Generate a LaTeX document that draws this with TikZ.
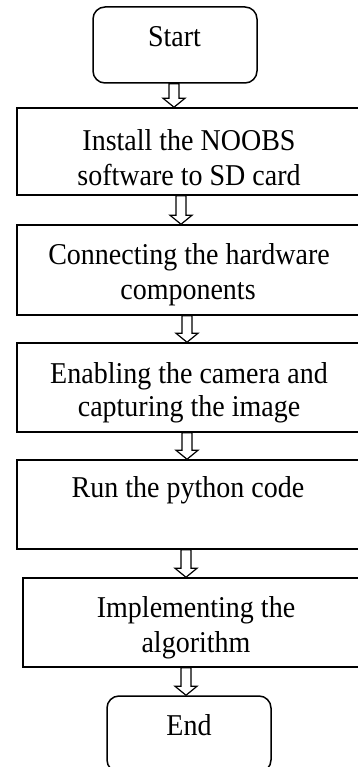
\documentclass[tikz,border=0pt]{standalone}
\usepackage{fontspec}
\setmainfont{Liberation Serif}
\usetikzlibrary{calc}

\tikzset{
  stepbox/.style={draw, line width=1.5pt, rectangle, inner sep=0pt},
  termbox/.style={stepbox, rounded corners=12pt},
  lbl/.style={anchor=base, inner sep=0pt, font=\fontsize{28}{34}\selectfont},
  flowarrow/.style={draw, line width=1.2pt, fill=white, line join=miter},
}

% slightly taller lettering
\newcommand\tall[1]{\scalebox{1}[1.08]{#1}}

% hollow block arrow pointing down from #1 to #2 (x taken from #1)
\newcommand\hollowdown[2]{%
  \draw[flowarrow] let \p1=(#1), \p2=(#2) in
    (\x1-5pt,\y1) -- (\x1+5pt,\y1) -- (\x1+5pt,\y2+9pt)
    -- (\x1+11pt,\y2+9pt) -- (\x1,\y2) -- (\x1-11pt,\y2+9pt)
    -- (\x1-5pt,\y2+9pt) -- cycle;}

\begin{document}
\begin{tikzpicture}[x=1pt,y=-1pt]
  \useasboundingbox (0,0) rectangle (358,767);
  \clip (0,0) rectangle (358,767);

  % boxes
  \node[termbox, minimum width=164pt, minimum height=76pt] (start) at (175,45) {};
  \node[stepbox, minimum width=344pt, minimum height=87pt] (b1) at (189,151.5) {};
  \node[stepbox, minimum width=344pt, minimum height=90pt] (b2) at (189,270) {};
  \node[stepbox, minimum width=344pt, minimum height=89pt] (b3) at (189,387.5) {};
  \node[stepbox, minimum width=344pt, minimum height=89pt] (b4) at (189,504.5) {};
  \node[stepbox, minimum width=346pt, minimum height=89pt] (b5) at (196,622.5) {};
  \node[termbox, minimum width=164pt, minimum height=76pt] (end) at (189,734) {};

  % labels
  \node[lbl] (t0)  at (174.5,47) {\tall{Start}};
  \node[lbl] (t1a) at (189,151) {\tall{Install the NOOBS}};
  \node[lbl] (t1b) at (189,186) {\tall{software to SD card}};
  \node[lbl] (t2a) at (189,264) {\tall{Connecting the hardware}};
  \node[lbl] (t2b) at (188,299) {\tall{components}};
  \node[lbl] (t3a) at (189,383) {\tall{Enabling the camera and}};
  \node[lbl] (t3b) at (189,416) {\tall{capturing the image}};
  \node[lbl] (t4)  at (188,497) {\tall{Run the python code}};
  \node[lbl] (t5a) at (196,617) {\tall{Implementing the}};
  \node[lbl] (t5b) at (196,652) {\tall{algorithm}};
  \node[lbl] (t6)  at (189,735) {\tall{End}};

  % arrow axes
  \coordinate (ax1) at (174,0);
  \coordinate (ax2) at (181,0);
  \coordinate (ax3) at (187,0);
  \coordinate (ax4) at (187,0);
  \coordinate (ax5) at (186,0);
  \coordinate (ax6) at (186,0);

  % connectors
  \hollowdown{start.south -| ax1}{b1.north -| ax1}
  \hollowdown{b1.south -| ax2}{b2.north -| ax2}
  \hollowdown{b2.south -| ax3}{b3.north -| ax3}
  \hollowdown{b3.south -| ax4}{b4.north -| ax4}
  \hollowdown{b4.south -| ax5}{b5.north -| ax5}
  \hollowdown{b5.south -| ax6}{end.north -| ax6}
\end{tikzpicture}
\end{document}
